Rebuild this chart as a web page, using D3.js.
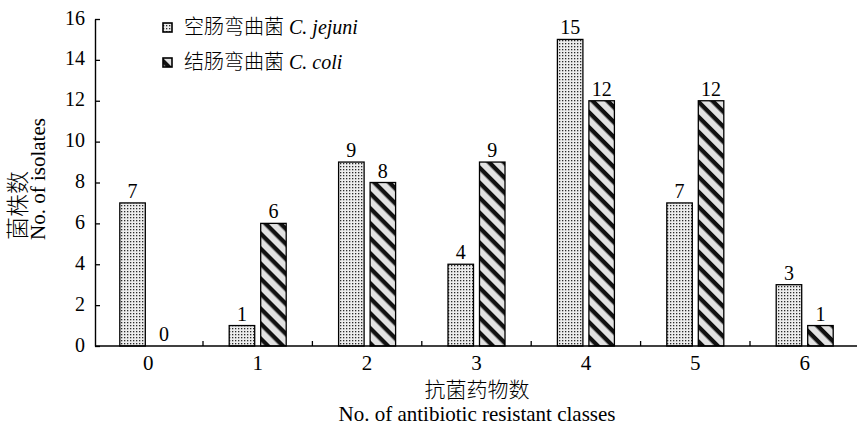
<!DOCTYPE html>
<html><head><meta charset="utf-8">
<script src="https://cdn.jsdelivr.net/npm/d3@7"></script>
<style>
body{margin:0;background:#fff;}
svg text{font-family:"Liberation Serif","Times New Roman","Noto Sans CJK SC",serif;fill:#000;}
.cjk{font-weight:300;}
</style></head>
<body><svg id="c" width="857" height="428"></svg>
<script>
const categories = ["0","1","2","3","4","5","6"];
const jejuni = [7,1,9,4,15,7,3];
const coli = [0,6,8,9,12,12,1];
const yTicks = [0,2,4,6,8,10,12,14,16];
const seriesNames = ["空肠弯曲菌 ", "结肠弯曲菌 "];
const seriesLatin = ["C. jejuni", "C. coli"];

const svg = d3.select("#c");
const defs = svg.append("defs");
// dotted pattern
const pd = defs.append("pattern").attr("id","dots").attr("patternUnits","userSpaceOnUse").attr("width",3).attr("height",3);
pd.append("rect").attr("width",3).attr("height",3).attr("fill","#ededed");
pd.append("rect").attr("x",1).attr("y",1).attr("width",1.3).attr("height",1.3).attr("fill","#2a2a2a");
// stripes
const ps = defs.append("pattern").attr("id","stripes").attr("patternUnits","userSpaceOnUse").attr("width",10.6).attr("height",10.6).attr("patternTransform","rotate(45)");
ps.append("rect").attr("width",10.6).attr("height",10.6).attr("fill","#e2e2e2");
ps.append("rect").attr("x",0).attr("y",0).attr("width",10.6).attr("height",4.3).attr("fill","#111");

const x = d3.scaleBand().domain(categories).range([93.6,859.4]).padding(0);
const y = d3.scaleLinear().domain([0,16]).range([346,19]);
const bw = 25.5, gap = 6;

const g = svg.append("g");
const fills = ["url(#dots)","url(#stripes)"];
[jejuni, coli].forEach((arr, si) => {
  const off = si===0 ? -(bw+gap/2) : gap/2;
  g.selectAll(null).data(arr).enter().append("rect")
    .attr("x",(d,i)=>x(categories[i])+x.bandwidth()/2+off)
    .attr("y",d=>y(d))
    .attr("width",bw)
    .attr("height",d=>y(0)-y(d))
    .attr("fill",fills[si])
    .attr("stroke",d=>d>0?"#000":"none").attr("stroke-width",1.3);
  g.selectAll(null).data(arr).enter().append("text")
    .attr("x",(d,i)=>x(categories[i])+x.bandwidth()/2+off+bw/2)
    .attr("y",d=>y(d)-5)
    .attr("text-anchor","middle").attr("font-size",20)
    .text(d=>d);
});

// y axis
const ya = svg.append("g").attr("transform","translate(95,0)")
  .call(d3.axisLeft(y).tickValues(yTicks).tickSize(-5).tickPadding(10).tickSizeOuter(0));
ya.select(".domain").attr("stroke","#000").attr("stroke-width",1.4);
ya.selectAll(".tick line").attr("stroke","#000").attr("stroke-width",1.3);
ya.selectAll(".tick text").attr("font-size",20).attr("font-family",null).attr("dy","0.25em");

// x axis
svg.append("line").attr("x1",95).attr("x2",857).attr("y1",y(0)).attr("y2",y(0)).attr("stroke","#000").attr("stroke-width",1.4);
const xa = svg.append("g").attr("transform",`translate(0,${y(0)})`)
  .call(d3.axisBottom(x).tickSize(0).tickPadding(9));
xa.select(".domain").remove();
xa.selectAll(".tick text").attr("font-size",21).attr("font-family",null);
// separator ticks between categories
svg.selectAll(null).data(categories.slice(1)).enter().append("line")
  .attr("x1",d=>x(d)).attr("x2",d=>x(d))
  .attr("y1",y(0)).attr("y2",y(0)-5).attr("stroke","#000").attr("stroke-width",1.3);

// axis titles
svg.append("text").attr("class","cjk").attr("x",477).attr("y",397).attr("text-anchor","middle").attr("font-size",21).text("抗菌药物数");
svg.append("text").attr("x",477).attr("y",421).attr("text-anchor","middle").attr("font-size",21).text("No. of antibiotic resistant classes");
const yt = svg.append("g").attr("transform","translate(0,240) rotate(-90)");
yt.append("text").attr("class","cjk").attr("x",0).attr("y",26).attr("text-anchor","start").attr("font-size",23).text("菌株数");
yt.append("text").attr("x",0).attr("y",45).attr("text-anchor","start").attr("font-size",21).text("No. of isolates");

// legend
const lg = svg.append("g");
[0,1].forEach(i=>{
  const ly = 23 + i*35;
  lg.append("rect").attr("x",163).attr("y",ly).attr("width",9).attr("height",9)
    .attr("fill",fills[i]).attr("stroke","#000").attr("stroke-width",1.6);
  const t = lg.append("text").attr("x",184).attr("y",ly+11).attr("font-size",20);
  t.append("tspan").attr("class","cjk").text(seriesNames[i]);
  t.append("tspan").attr("font-style","italic").text(seriesLatin[i]);
});
</script></body></html>
